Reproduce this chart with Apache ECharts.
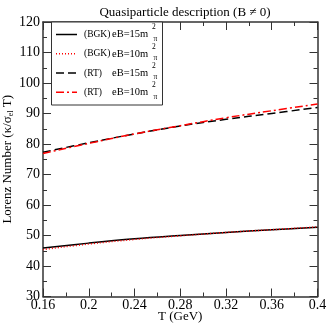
<!DOCTYPE html>
<html>
<head>
<meta charset="utf-8">
<script src="https://cdn.jsdelivr.net/npm/echarts@6/dist/echarts.min.js"></script>
<style>
    html, body { margin: 0; padding: 0; background: #fff; }
    #chart { width: 327px; height: 327px; }
</style>
</head>
<body>
<div id="chart"></div>
<script>
// temperatures (GeV)
const temps = [0.16, 0.2, 0.24, 0.28, 0.32, 0.36, 0.4]
// Lorenz number, BGK and RT, two field strengths
const bgk15 = [45.9, 47.5, 48.9, 50.0, 51.0, 51.9, 52.7]
const bgk10 = [45.4, 47.2, 48.7, 49.9, 51.0, 51.9, 52.8]
const rt15 = [77.3, 80.4, 83.3, 85.9, 88.1, 90.0, 92.0]
const rt10 = [76.9, 80.2, 83.3, 86.0, 88.6, 90.9, 93.1]

const xTicks = [0.16, 0.2, 0.24, 0.28, 0.32, 0.36, 0.4]
const yTicks = [30, 40, 50, 60, 70, 80, 90, 100, 110, 120]

const legendScheme = ['(BGK)', '(BGK)', '(RT)', '(RT)']
const legendField = ['eB=15m', 'eB=10m', 'eB=15m', 'eB=10m']

const serif = '"Liberation Serif", "DejaVu Serif", serif'

const styles = [
    { color: '#000', type: 'solid' },
    { color: '#ff0000', type: [1, 2] },
    { color: '#000', type: [8, 4] },
    { color: '#ff0000', type: [8, 3, 2, 3] }
]

function pairs(vals) {
    return temps.map((t, i) => [t, vals[i]])
}

const chart = echarts.init(document.getElementById('chart'))

const frameLine = { show: true, lineStyle: { color: '#333', width: 1.5 } }

function axisBase(extra) {
    return Object.assign({
        type: 'value',
        axisLine: frameLine,
        axisTick: { show: true, inside: true, length: 8, lineStyle: { color: '#333', width: 1 } },
        minorTick: { show: true, splitNumber: 2, length: 4, lineStyle: { color: '#333', width: 1 } },
        splitLine: { show: false },
        minorSplitLine: { show: false }
    }, extra)
}

// legend built by hand (stacked super/subscript)
const legendEls = [{
    type: 'rect',
    shape: { x: 51.5, y: 22, width: 111, height: 83 },
    style: { fill: '#fff', stroke: '#333', lineWidth: 1 },
    z: 10
}]
const rowY = [34.5, 53.8, 73, 92.3]
rowY.forEach((y, i) => {
    legendEls.push({
        type: 'line',
        shape: { x1: 56, y1: y, x2: 77, y2: y },
        style: { stroke: styles[i].color, lineWidth: 1.5, lineDash: styles[i].type === 'solid' ? null : styles[i].type },
        z: 11
    })
    legendEls.push({
        type: 'text', x: 84, y: y,
        style: { text: legendScheme[i], font: '9.5px ' + serif, fill: '#000', verticalAlign: 'middle' },
        z: 11
    })
    legendEls.push({
        type: 'text', x: 112, y: y,
        style: { text: legendField[i], font: '10.5px ' + serif, fill: '#000', verticalAlign: 'middle' },
        z: 11
    })
    legendEls.push({
        type: 'text', x: 152, y: y - 7,
        style: { text: '2', font: '7.5px ' + serif, fill: '#000', verticalAlign: 'middle' },
        z: 11
    })
    legendEls.push({
        type: 'text', x: 153.5, y: y + 4.5,
        style: { text: 'π', font: '7.5px ' + serif, fill: '#000', verticalAlign: 'middle' },
        z: 11
    })
})

const option = {
    animation: false,
    backgroundColor: '#fff',
    title: {
        text: 'Quasiparticle description (B ≠ 0)',
        left: 180, top: 1, textAlign: 'center',
        textStyle: { fontFamily: serif, fontSize: 13, fontWeight: 'normal', color: '#000' }
    },
    grid: { left: 43, right: 9.5, top: 22, bottom: 30.5, outerBoundsMode: 'none', containLabel: false },
    xAxis: [
        axisBase({
            min: 0.16, max: 0.4, interval: 0.04,
            name: 'T (GeV)', nameLocation: 'middle', nameGap: 14, nameMoveOverlap: false,
            nameTextStyle: { fontFamily: serif, fontSize: 13, color: '#000' },
            axisLabel: {
                fontFamily: serif, fontSize: 14, color: '#000', margin: 2,
                formatter: v => xTicks.some(t => Math.abs(t - v) < 1e-9) ? String(+v.toFixed(2)) : ''
            }
        }),
        axisBase({ min: 0.16, max: 0.4, interval: 0.04, position: 'top', axisLabel: { show: false } })
    ],
    yAxis: [
        axisBase({
            min: 30, max: 120, interval: 10,
            name: '{a|Lorenz Number (κ/σ}{s|el}{a| T)}', nameLocation: 'middle', nameGap: 28, nameMoveOverlap: false,
            nameTextStyle: {
                fontFamily: serif, fontSize: 13, color: '#000',
                rich: {
                    a: { fontFamily: serif, fontSize: 13, color: '#000' },
                    s: { fontFamily: serif, fontSize: 8, color: '#000', verticalAlign: 'bottom', padding: [7, 0, 0, 0] }
                }
            },
            axisLabel: {
                fontFamily: serif, fontSize: 14, color: '#000', margin: 3,
                formatter: v => yTicks.includes(v) ? String(v) : ''
            }
        }),
        axisBase({ min: 30, max: 120, interval: 10, position: 'right', axisLabel: { show: false } })
    ],
    series: [bgk15, bgk10, rt15, rt10].map((vals, i) => ({
        type: 'line',
        data: pairs(vals),
        smooth: 0.4,
        showSymbol: false,
        lineStyle: { color: styles[i].color, width: 1.5, type: styles[i].type },
        z: i === 1 || i === 3 ? 3 : 2
    })),
    graphic: legendEls
}

chart.setOption(option)
</script>
</body>
</html>
